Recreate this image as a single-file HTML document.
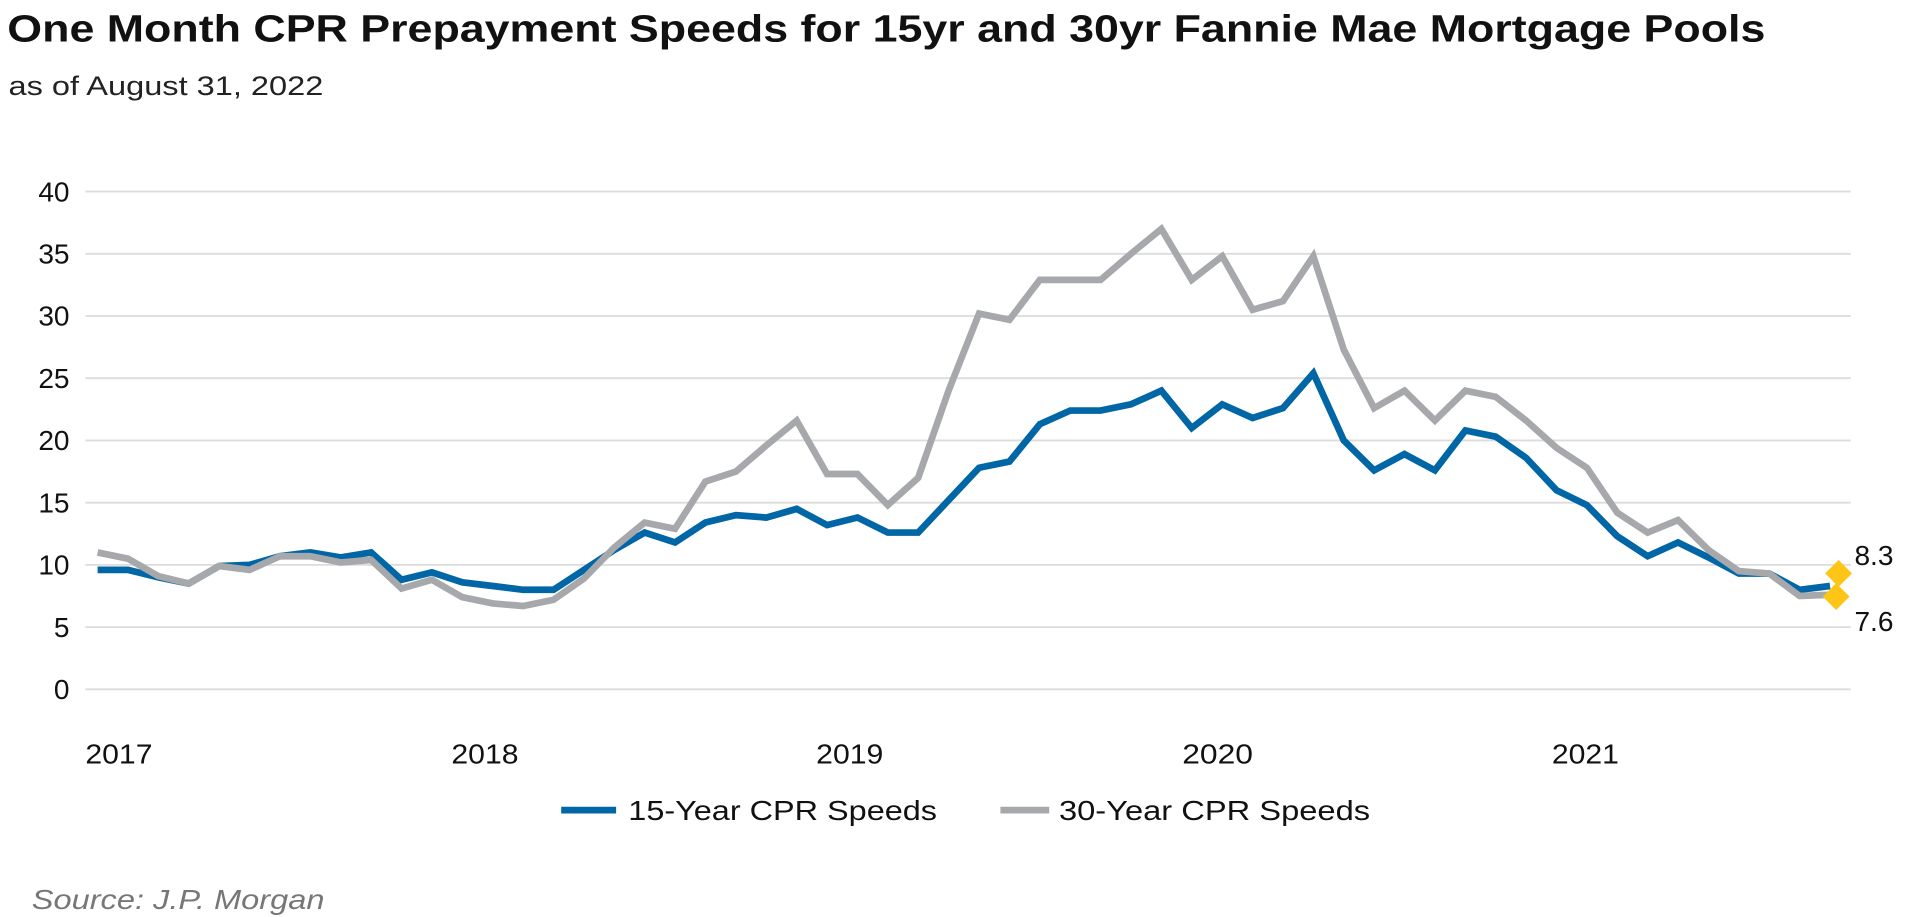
<!DOCTYPE html>
<html><head><meta charset="utf-8"><style>html,body{margin:0;padding:0;background:#fff;}svg{display:block}</style></head>
<body>
<svg width="1913" height="917" viewBox="0 0 1568 751.6" xmlns="http://www.w3.org/2000/svg" font-family="Liberation Sans, sans-serif">
<text x="6" y="34" font-size="31" font-weight="bold" fill="#111" textLength="1441" lengthAdjust="spacingAndGlyphs">One Month CPR Prepayment Speeds for 15yr and 30yr Fannie Mae Mortgage Pools</text>
<text x="7" y="78" font-size="22" fill="#222" textLength="258" lengthAdjust="spacingAndGlyphs">as of August 31, 2022</text>
<g stroke="#dcdcdc" stroke-width="1.5">
<line x1="70" x2="1517" y1="157" y2="157"/><line x1="70" x2="1517" y1="208" y2="208"/><line x1="70" x2="1517" y1="259" y2="259"/><line x1="70" x2="1517" y1="310" y2="310"/><line x1="70" x2="1517" y1="361" y2="361"/><line x1="70" x2="1517" y1="412" y2="412"/><line x1="70" x2="1517" y1="463" y2="463"/><line x1="70" x2="1517" y1="514" y2="514"/><line x1="70" x2="1517" y1="565" y2="565"/>
</g>
<g font-size="23" fill="#111" text-anchor="end">
<text x="57" y="165">40</text><text x="57" y="216">35</text><text x="57" y="267">30</text><text x="57" y="318">25</text><text x="57" y="369">20</text><text x="57" y="420">15</text><text x="57" y="471">10</text><text x="57" y="522">5</text><text x="57" y="573">0</text>
</g>
<g font-size="23" fill="#111">
<text x="70" y="626" textLength="55" lengthAdjust="spacingAndGlyphs">2017</text><text x="370" y="626" textLength="55" lengthAdjust="spacingAndGlyphs">2018</text><text x="669" y="626" textLength="55" lengthAdjust="spacingAndGlyphs">2019</text><text x="969" y="626" textLength="58" lengthAdjust="spacingAndGlyphs">2020</text><text x="1272" y="626" textLength="55" lengthAdjust="spacingAndGlyphs">2021</text>
</g>
<g fill="none" stroke-width="5.5" stroke-linejoin="miter">
<polyline id="b" stroke="#0066a6" points=""/>
<polyline id="g" stroke="#a6a8ab" points=""/>
</g>
<path d="M1507 459 L1518 470 L1507 481 L1496 470Z" fill="#fdc516"/>
<path d="M1505 478 L1516 489 L1505 500 L1494 489Z" fill="#fdc516"/>
<text x="1520" y="463" font-size="23" fill="#111">8.3</text>
<text x="1520" y="517" font-size="23" fill="#111">7.6</text>
<line x1="460" x2="505" y1="664" y2="664" stroke="#0066a6" stroke-width="5.5"/>
<text x="515" y="672" font-size="23" fill="#111" textLength="253" lengthAdjust="spacingAndGlyphs">15-Year CPR Speeds</text>
<line x1="820" x2="860" y1="664" y2="664" stroke="#a6a8ab" stroke-width="5.5"/>
<text x="868" y="672" font-size="23" fill="#111" textLength="255" lengthAdjust="spacingAndGlyphs">30-Year CPR Speeds</text>
<text x="26" y="745" font-size="23" font-style="italic" fill="#777" textLength="240" lengthAdjust="spacingAndGlyphs">Source: J.P. Morgan</text>
<script>
var b=[9.6,9.6,9.0,8.5,9.9,10.0,10.7,11.0,10.6,11.0,8.8,9.4,8.6,8.3,8.0,8.0,9.6,11.2,12.6,11.8,13.4,14.0,13.8,14.5,13.2,13.8,12.6,12.6,15.2,17.8,18.3,21.3,22.4,22.4,22.9,24.0,21.0,22.9,21.8,22.6,25.4,20.0,17.6,18.9,17.6,20.8,20.3,18.6,16.0,14.8,12.3,10.7,11.8,10.6,9.3,9.3,8.0,8.3];
var g=[11.0,10.5,9.1,8.5,9.9,9.6,10.7,10.7,10.2,10.4,8.1,8.8,7.4,6.9,6.7,7.2,8.9,11.4,13.4,12.9,16.7,17.5,19.6,21.6,17.3,17.3,14.8,17.0,24.0,30.2,29.7,32.9,32.9,32.9,35.0,37.0,32.9,34.8,30.5,31.2,34.8,27.3,22.6,24.0,21.6,24.0,23.5,21.6,19.4,17.8,14.2,12.6,13.6,11.2,9.5,9.3,7.5,7.6];
function p(a){var n=a.length,s=(1500-80)/(n-1);return a.map(function(v,i){return (80+i*s).toFixed(1)+","+(565-v*10.2).toFixed(1)}).join(" ");}
document.getElementById("b").setAttribute("points",p(b));
document.getElementById("g").setAttribute("points",p(g));
</script>
</svg>
</body></html>
